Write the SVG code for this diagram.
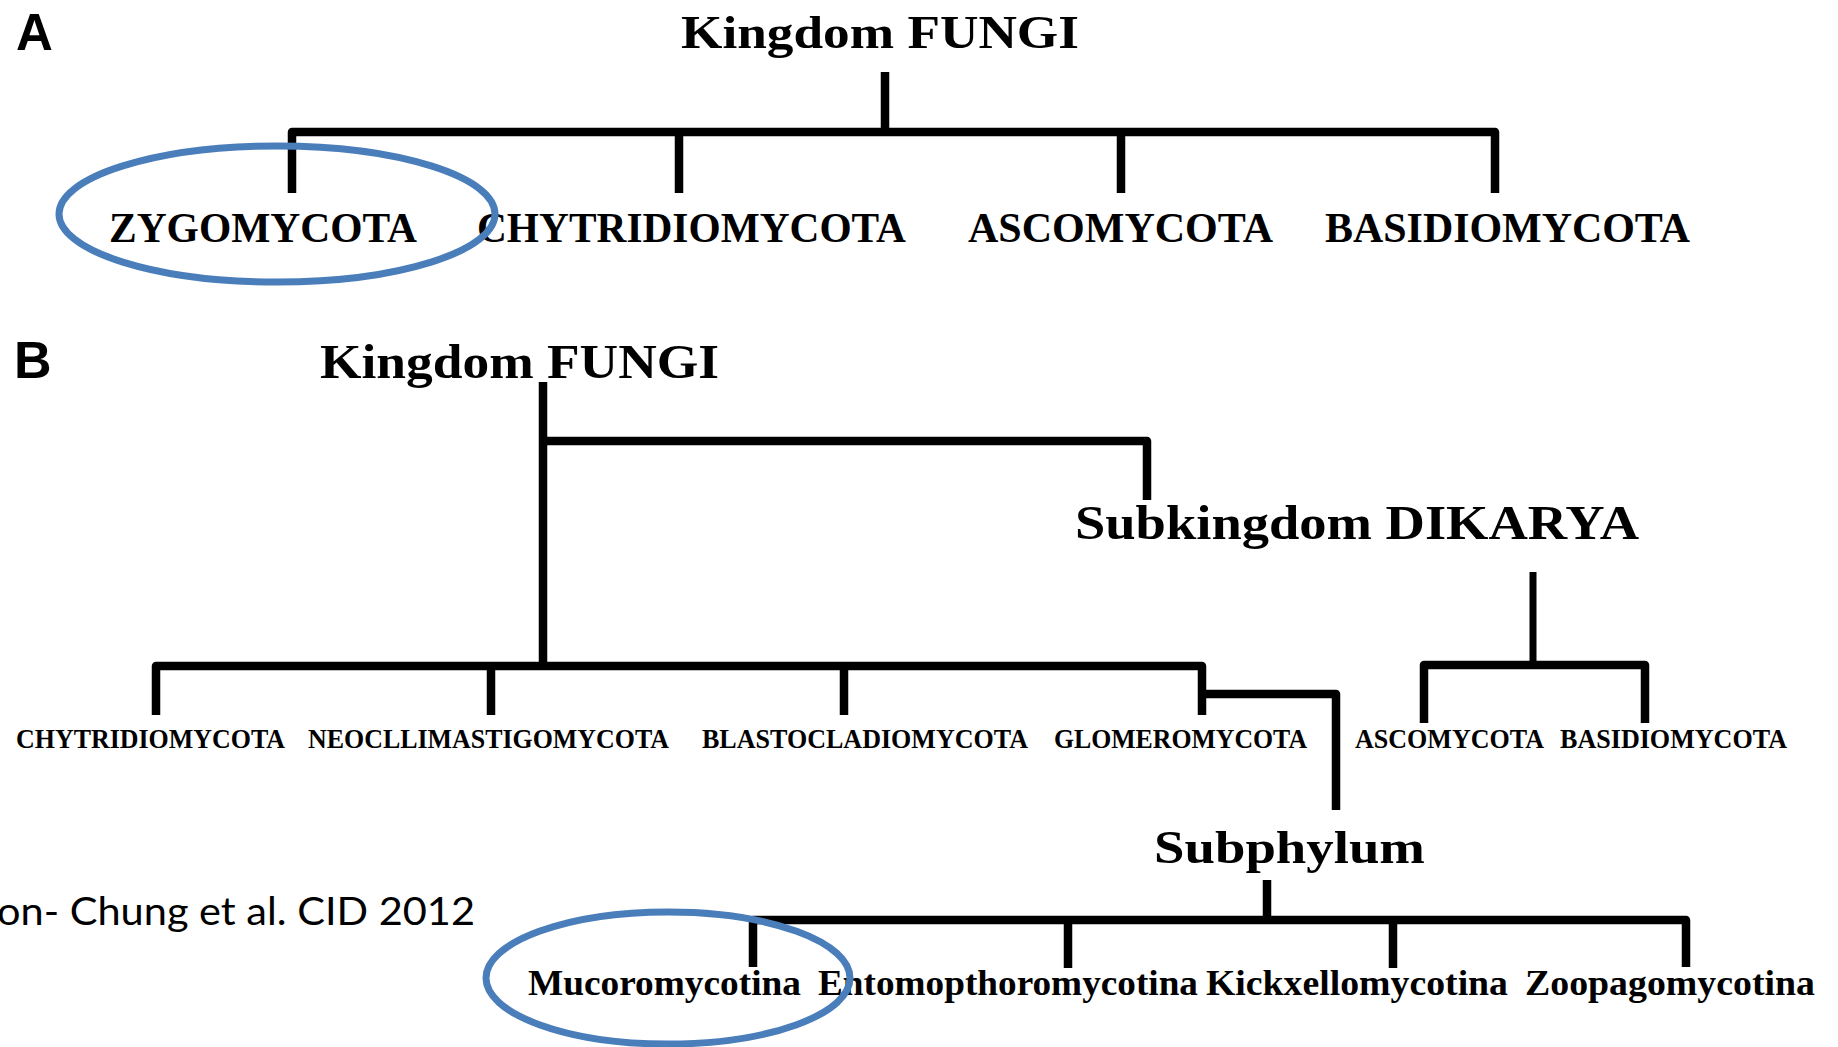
<svg xmlns="http://www.w3.org/2000/svg" width="1838" height="1047" viewBox="0 0 1838 1047">
<style>
.bg{fill:#ffffff}
.ln{fill:none;stroke:#000;stroke-width:8.5;stroke-linejoin:round;stroke-linecap:butt}
.t{font-family:"Liberation Serif","Times New Roman",serif;font-weight:bold;fill:#000}
.lab{font-family:"Liberation Sans",Arial,sans-serif;font-weight:bold;fill:#000}
.cite{font-family:"Lato","Liberation Sans",Arial,sans-serif;fill:#000}
.ring{fill:none;stroke:#4a7ebb;stroke-width:7}
</style>
<rect class="bg" x="0" y="0" width="1838" height="1047"/>

<g id="panel-labels">
<text class="lab" x="16" y="50" font-size="51">A</text>
<text class="lab" x="14" y="378" font-size="52">B</text>
</g>

<g id="connectors">
<path class="ln" d="M885 72 V132"/>
<path class="ln" d="M292 193 V132 H1495 V193"/>
<path class="ln" d="M679 132 V193"/>
<path class="ln" d="M1121 132 V193"/>

<path class="ln" d="M543 382 V666"/>
<path class="ln" d="M543 441 H1147 V500"/>
<path class="ln" d="M156 715 V666 H1202 V715"/>
<path class="ln" d="M491 666 V715"/>
<path class="ln" d="M844 666 V715"/>
<path class="ln" d="M1202 694 H1336 V810"/>
<path class="ln" d="M1533 572 V665" style="stroke-width:7"/>
<path class="ln" d="M1424 723 V665 H1645 V723"/>
<path class="ln" d="M1267 880 V920"/>
<path class="ln" d="M753 967 V920 H1686 V967"/>
<path class="ln" d="M1068 920 V968"/>
<path class="ln" d="M1393 920 V968"/>
</g>

<g id="node-a-kingdom"><text class="t" x="681" y="48" font-size="47" textLength="398" lengthAdjust="spacingAndGlyphs">Kingdom FUNGI</text></g>
<g id="node-a-zygo"><text class="t" x="109" y="242" font-size="43" textLength="308" lengthAdjust="spacingAndGlyphs">ZYGOMYCOTA</text></g>
<g id="node-a-chytrid"><text class="t" x="477" y="242" font-size="43" textLength="429" lengthAdjust="spacingAndGlyphs">CHYTRIDIOMYCOTA</text></g>
<g id="node-a-asco"><text class="t" x="968" y="242" font-size="43" textLength="305" lengthAdjust="spacingAndGlyphs">ASCOMYCOTA</text></g>
<g id="node-a-basidio"><text class="t" x="1325" y="242" font-size="43" textLength="365" lengthAdjust="spacingAndGlyphs">BASIDIOMYCOTA</text></g>

<g id="node-b-kingdom"><text class="t" x="320" y="378" font-size="48" textLength="399" lengthAdjust="spacingAndGlyphs">Kingdom FUNGI</text></g>
<g id="node-b-dikarya"><text class="t" x="1075" y="539" font-size="48" textLength="564" lengthAdjust="spacingAndGlyphs">Subkingdom DIKARYA</text></g>
<g id="node-b-chytrid"><text class="t" x="16" y="748" font-size="27" textLength="269" lengthAdjust="spacingAndGlyphs">CHYTRIDIOMYCOTA</text></g>
<g id="node-b-neoc"><text class="t" x="308" y="748" font-size="27" textLength="361" lengthAdjust="spacingAndGlyphs">NEOCLLIMASTIGOMYCOTA</text></g>
<g id="node-b-blasto"><text class="t" x="702" y="748" font-size="27" textLength="326" lengthAdjust="spacingAndGlyphs">BLASTOCLADIOMYCOTA</text></g>
<g id="node-b-glomero"><text class="t" x="1054" y="748" font-size="27" textLength="253" lengthAdjust="spacingAndGlyphs">GLOMEROMYCOTA</text></g>
<g id="node-b-asco"><text class="t" x="1355" y="748" font-size="27" textLength="189" lengthAdjust="spacingAndGlyphs">ASCOMYCOTA</text></g>
<g id="node-b-basidio"><text class="t" x="1560" y="748" font-size="27" textLength="227" lengthAdjust="spacingAndGlyphs">BASIDIOMYCOTA</text></g>
<g id="node-b-subphylum"><text class="t" x="1154" y="863" font-size="47" textLength="271" lengthAdjust="spacingAndGlyphs">Subphylum</text></g>
<g id="node-b-mucoro"><text class="t" x="528" y="995" font-size="36" textLength="273" lengthAdjust="spacingAndGlyphs">Mucoromycotina</text></g>
<g id="node-b-entomo"><text class="t" x="818" y="995" font-size="36" textLength="380" lengthAdjust="spacingAndGlyphs">Entomopthoromycotina</text></g>
<g id="node-b-kickx"><text class="t" x="1206" y="995" font-size="36" textLength="302" lengthAdjust="spacingAndGlyphs">Kickxellomycotina</text></g>
<g id="node-b-zoopago"><text class="t" x="1525" y="995" font-size="36" textLength="290" lengthAdjust="spacingAndGlyphs">Zoopagomycotina</text></g>

<g id="citation"><text class="cite" x="-3" y="925" font-size="39" textLength="478" lengthAdjust="spacingAndGlyphs">on- Chung et al. CID 2012</text></g>

<g id="highlights">
<ellipse class="ring" cx="277" cy="214" rx="218" ry="68"/>
<ellipse class="ring" cx="668" cy="978" rx="182" ry="66"/>
</g>
</svg>
